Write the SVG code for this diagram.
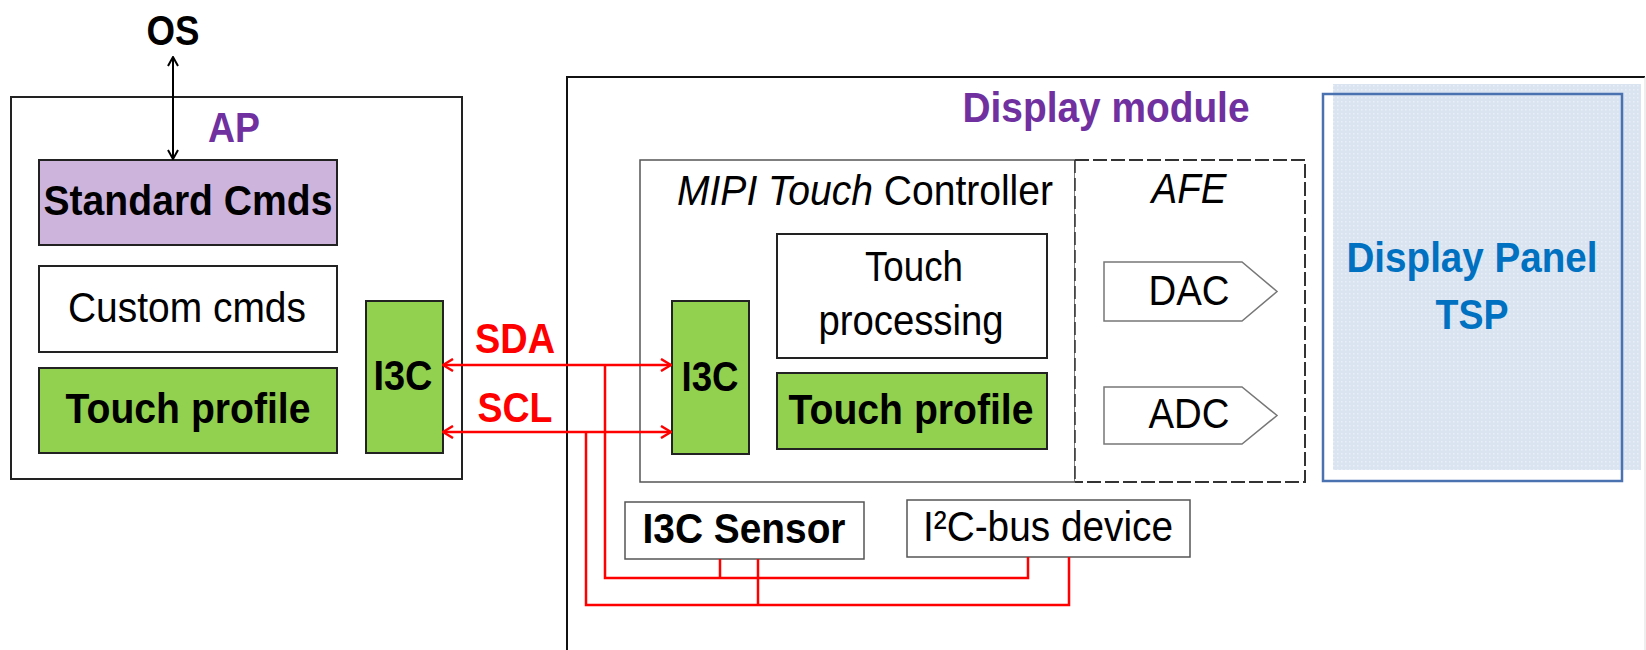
<svg xmlns="http://www.w3.org/2000/svg" width="1646" height="650" viewBox="0 0 1646 650">
<style>
text{font-family:"Liberation Sans",Arial,sans-serif;font-size:42px;text-anchor:middle;fill:#000}
.b{font-weight:bold}
.i{font-style:italic}
.box{fill:#fff;stroke:#222;stroke-width:2}
.grn{fill:#92D050;stroke:#222;stroke-width:2}
.pur{fill:#CDB4DC;stroke:#222;stroke-width:2}
.thin{fill:#fff;stroke:#555;stroke-width:1.5}
.bus{fill:none;stroke:#FF0000;stroke-width:2.5}
.arr{fill:none;stroke:#000;stroke-width:2}
.afe{fill:#fff;stroke:#777;stroke-width:1.5}
</style>
<defs>
<marker id="ab" viewBox="0 0 12 12" refX="11" refY="6" markerWidth="12" markerHeight="12" markerUnits="userSpaceOnUse" orient="auto-start-reverse">
<path d="M2,1 L11,6 L2,11" fill="none" stroke="#000" stroke-width="2"/>
</marker>
<marker id="ar" viewBox="0 0 14 14" refX="13" refY="7" markerWidth="14" markerHeight="14" markerUnits="userSpaceOnUse" orient="auto-start-reverse">
<path d="M3,1 L13,7 L3,13" fill="none" stroke="#FF0000" stroke-width="2.5"/>
</marker>
<pattern id="dots" width="4" height="4" patternUnits="userSpaceOnUse">
<rect width="4" height="4" fill="#DAE4F1"/>
<rect x="1" y="1" width="1.5" height="1.5" fill="#E9EFF7"/>
</pattern>
</defs>

<g id="display-module">
<path d="M567,660 V77 H1645" fill="none" stroke="#111" stroke-width="2"/>
<line x1="1645" y1="77" x2="1645" y2="660" stroke="#ddd" stroke-width="1"/>
<text class="b" x="1106" y="122" textLength="287" lengthAdjust="spacingAndGlyphs" style="fill:#7030A0">Display module</text>
</g>

<g id="display-panel">
<rect x="1333" y="84" width="308" height="386" fill="url(#dots)"/>
<rect x="1323" y="94" width="299" height="387" fill="none" stroke="#4A72B0" stroke-width="2.5"/>
<text class="b" x="1472" y="272" textLength="251" lengthAdjust="spacingAndGlyphs" style="fill:#0070C0">Display Panel</text>
<text class="b" x="1472" y="329" textLength="73" lengthAdjust="spacingAndGlyphs" style="fill:#0070C0">TSP</text>
</g>

<g id="ap">
<rect x="11" y="97" width="451" height="382" class="box"/>
<text class="b" x="234" y="142" textLength="52" lengthAdjust="spacingAndGlyphs" style="fill:#7030A0">AP</text>
</g>

<g id="os">
<text class="b" x="173" y="45" textLength="53" lengthAdjust="spacingAndGlyphs">OS</text>
</g>

<g id="standard-cmds">
<rect x="39" y="160" width="298" height="85" class="pur"/>
<text class="b" x="188" y="215" textLength="289" lengthAdjust="spacingAndGlyphs">Standard Cmds</text>
</g>

<g id="custom-cmds">
<rect x="39" y="266" width="298" height="86" class="box"/>
<text x="187" y="322" textLength="238" lengthAdjust="spacingAndGlyphs">Custom cmds</text>
</g>

<g id="ap-touch-profile">
<rect x="39" y="368" width="298" height="85" class="grn"/>
<text class="b" x="188" y="423" textLength="245" lengthAdjust="spacingAndGlyphs">Touch profile</text>
</g>

<g id="ap-i3c">
<rect x="366" y="301" width="77" height="152" class="grn"/>
<text class="b" x="403" y="390" textLength="59" lengthAdjust="spacingAndGlyphs">I3C</text>
</g>

<g id="mipi-touch-controller">
<rect x="640" y="160" width="435" height="322" class="thin"/>
<text x="865" y="205" textLength="376" lengthAdjust="spacingAndGlyphs"><tspan class="i">MIPI Touch</tspan> Controller</text>
</g>

<g id="afe">
<path d="M1075,160 H1305 V482 H1075" fill="#fff" stroke="#333" stroke-width="2" stroke-dasharray="14 4"/>
<line x1="1075" y1="160" x2="1075" y2="482" stroke="#333" stroke-width="1.5" stroke-dasharray="13 5"/>
<text class="i" x="1189" y="203" textLength="75" lengthAdjust="spacingAndGlyphs">AFE</text>
</g>

<g id="dac">
<polygon points="1104,262 1242,262 1277,291.5 1242,321 1104,321" class="afe"/>
<text x="1189" y="305" textLength="81" lengthAdjust="spacingAndGlyphs">DAC</text>
</g>

<g id="adc">
<polygon points="1104,387 1242,387 1277,415.5 1242,444 1104,444" class="afe"/>
<text x="1189" y="428" textLength="81" lengthAdjust="spacingAndGlyphs">ADC</text>
</g>

<g id="touch-processing">
<rect x="777" y="234" width="270" height="124" class="box"/>
<text x="914" y="281" textLength="98" lengthAdjust="spacingAndGlyphs">Touch</text>
<text x="911" y="335" textLength="185" lengthAdjust="spacingAndGlyphs">processing</text>
</g>

<g id="dm-touch-profile">
<rect x="777" y="373" width="270" height="76" class="grn"/>
<text class="b" x="911" y="424" textLength="245" lengthAdjust="spacingAndGlyphs">Touch profile</text>
</g>

<g id="dm-i3c">
<rect x="672" y="301" width="77" height="153" class="grn"/>
<text class="b" x="710" y="391" textLength="57" lengthAdjust="spacingAndGlyphs">I3C</text>
</g>

<g id="i3c-sensor">
<rect x="625" y="502" width="239" height="57" class="thin"/>
<text class="b" x="744" y="543" textLength="203" lengthAdjust="spacingAndGlyphs">I3C Sensor</text>
</g>

<g id="i2c-device">
<rect x="907" y="500" width="283" height="57" class="thin"/>
<text x="1048" y="541" textLength="250" lengthAdjust="spacingAndGlyphs">I²C-bus device</text>
</g>

<g id="connectors">
<line x1="173" y1="57" x2="173" y2="159" class="arr" marker-start="url(#ab)" marker-end="url(#ab)"/>
<line x1="443" y1="365" x2="671" y2="365" class="bus" marker-start="url(#ar)" marker-end="url(#ar)"/>
<line x1="443" y1="432" x2="671" y2="432" class="bus" marker-start="url(#ar)" marker-end="url(#ar)"/>
<polyline points="605,365 605,578 1028,578 1028,557" class="bus"/>
<line x1="720" y1="559" x2="720" y2="578" class="bus"/>
<polyline points="586,432 586,605 1069,605 1069,557" class="bus"/>
<line x1="758" y1="559" x2="758" y2="605" class="bus"/>
<text class="b" x="515" y="353" textLength="80" lengthAdjust="spacingAndGlyphs" style="fill:#FF0000">SDA</text>
<text class="b" x="515" y="422" textLength="75" lengthAdjust="spacingAndGlyphs" style="fill:#FF0000">SCL</text>
</g>
</svg>
